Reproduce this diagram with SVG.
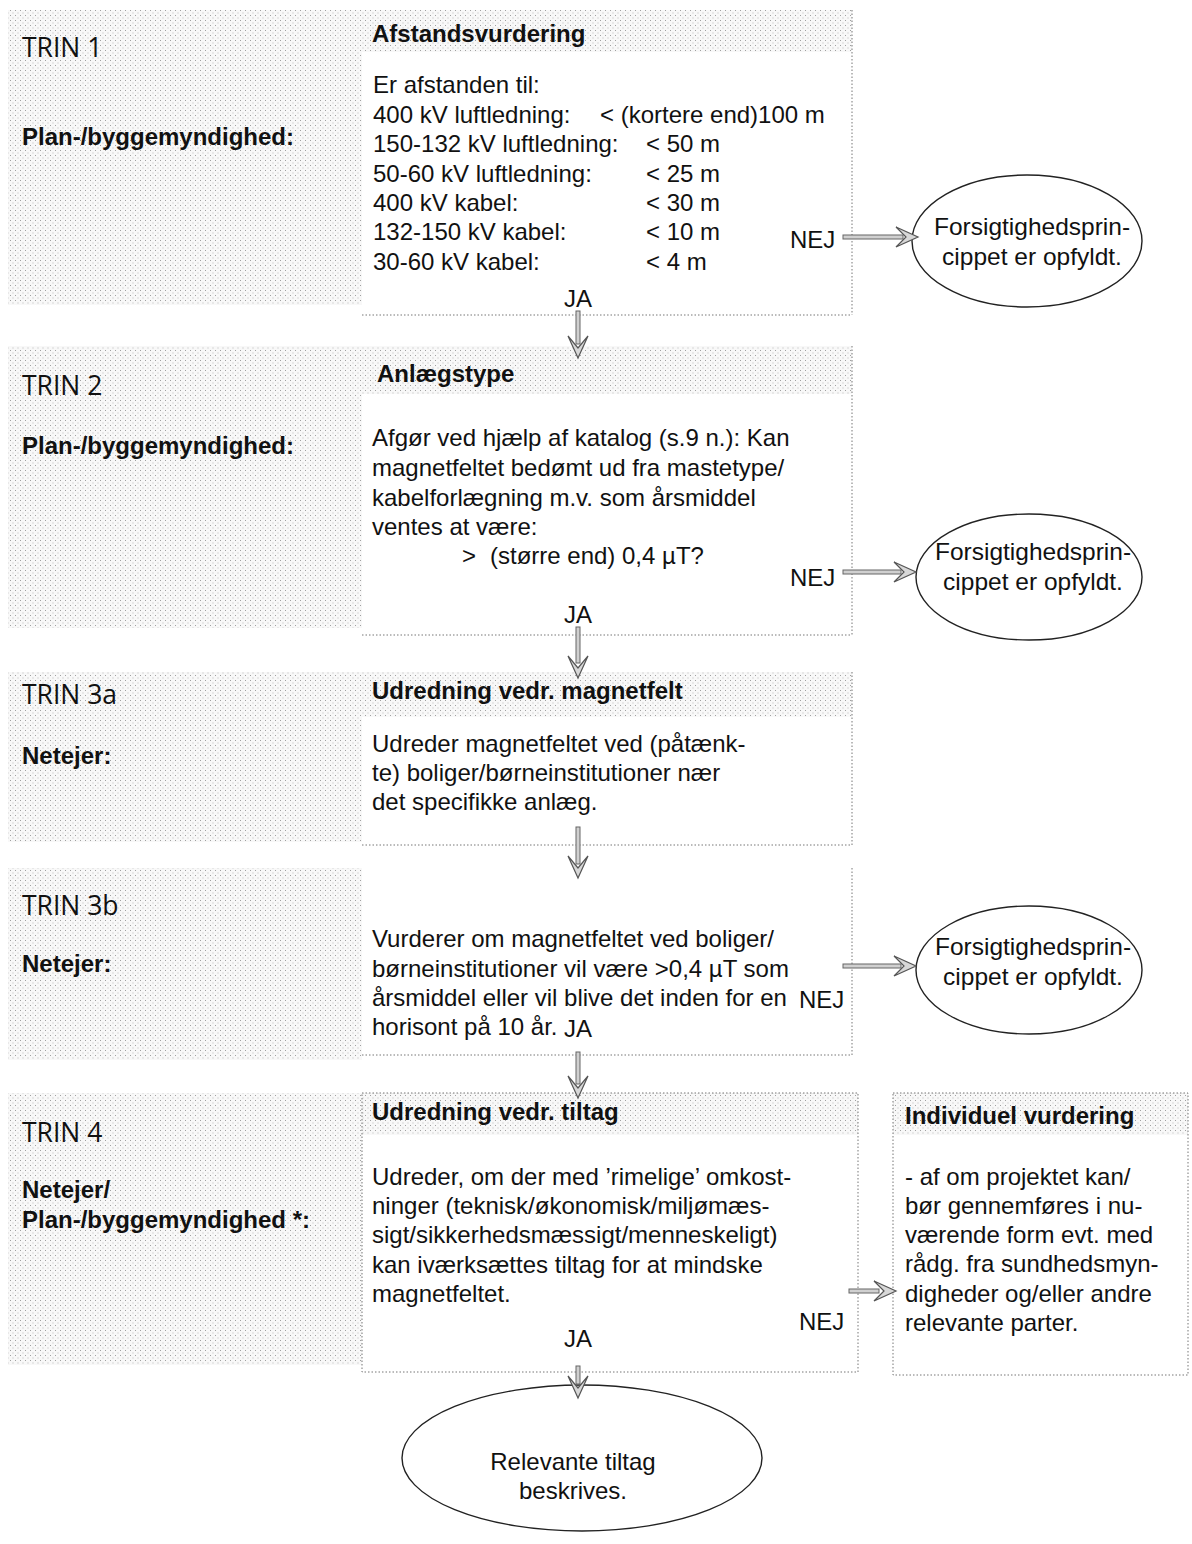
<svg xmlns="http://www.w3.org/2000/svg" width="1192" height="1544" viewBox="0 0 1192 1544">
<defs>
<pattern id="stip" width="5" height="5" patternUnits="userSpaceOnUse">
<rect width="5" height="5" fill="#f8f8f8"/>
<rect x="0" y="0" width="1" height="1" fill="#a0a0a0"/>
<rect x="2.5" y="2.5" width="1" height="1" fill="#b8b8b8"/>
</pattern>
<style>
.t{font-family:"Liberation Sans",Arial,sans-serif;font-size:24px;fill:#111}
.b{font-family:"Liberation Sans",Arial,sans-serif;font-size:24px;font-weight:bold;fill:#111}
.e{font-family:"Liberation Sans",Arial,sans-serif;font-size:24.5px;fill:#111;text-anchor:middle}
.trin{font-family:"Open Sans","Liberation Sans",sans-serif;font-size:26.5px;fill:#111}
.gray{fill:url(#stip)}
.dot{fill:none;stroke:#777;stroke-width:1;stroke-dasharray:1.5 2}
.ell{fill:#fff;stroke:#222;stroke-width:1.4}
.sh{fill:#d0d0d0;stroke:#666;stroke-width:1}
.hd{fill:#d8d8d8;stroke:#555;stroke-width:1.2;stroke-linejoin:miter}
.m{text-anchor:middle}
</style>
</defs>
<rect width="1192" height="1544" fill="#fff"/>

<!-- Row 1 -->
<g id="trin1">
<rect class="gray" x="8" y="10" width="354" height="295"/>
<text class="trin" x="22" y="57">TRIN 1</text>
<text class="b" x="22" y="145">Plan-/byggemyndighed:</text>
</g>
<g id="afstand">
<rect class="gray" x="362" y="10" width="490" height="42"/>
<path class="dot" d="M852 10 V315 M362 315 H852"/>
<text class="b" x="372" y="42">Afstandsvurdering</text>
<text class="t" x="373" y="93">Er afstanden til:</text>
<text class="t" x="373" y="123">400 kV luftledning:</text>
<text class="t" x="600" y="123">&lt; (kortere end)100 m</text>
<text class="t" x="373" y="152">150-132 kV luftledning:</text>
<text class="t" x="646" y="152">&lt; 50 m</text>
<text class="t" x="373" y="182">50-60 kV luftledning:</text>
<text class="t" x="646" y="182">&lt; 25 m</text>
<text class="t" x="373" y="211">400 kV kabel:</text>
<text class="t" x="646" y="211">&lt; 30 m</text>
<text class="t" x="373" y="240">132-150 kV kabel:</text>
<text class="t" x="646" y="240">&lt; 10 m</text>
<text class="t" x="373" y="270">30-60 kV kabel:</text>
<text class="t" x="646" y="270">&lt; 4 m</text>
</g>
<g id="forsig1">
<ellipse class="ell" cx="1027" cy="241" rx="115" ry="66"/>
<text class="e" x="1032" y="235">Forsigtighedsprin-</text>
<text class="e" x="1032" y="265">cippet er opfyldt.</text>
</g>

<!-- Row 2 -->
<g id="trin2">
<rect class="gray" x="8" y="346" width="354" height="282"/>
<text class="trin" x="22" y="395">TRIN 2</text>
<text class="b" x="22" y="454">Plan-/byggemyndighed:</text>
</g>
<g id="anlaeg">
<rect class="gray" x="362" y="346" width="490" height="48"/>
<path class="dot" d="M852 346 V635 M362 635 H852"/>
<text class="b" x="377" y="382">Anlægstype</text>
<text class="t" x="372" y="446">Afgør ved hjælp af katalog (s.9 n.): Kan</text>
<text class="t" x="372" y="476">magnetfeltet bedømt ud fra mastetype/</text>
<text class="t" x="372" y="506">kabelforlægning m.v. som årsmiddel</text>
<text class="t" x="372" y="535">ventes at være:</text>
<text class="t" x="462" y="564">&gt;</text>
<text class="t" x="490" y="564">(større end) 0,4 µT?</text>
</g>
<g id="forsig2">
<ellipse class="ell" cx="1029" cy="577" rx="113" ry="63"/>
<text class="e" x="1033" y="560">Forsigtighedsprin-</text>
<text class="e" x="1033" y="590">cippet er opfyldt.</text>
</g>

<!-- Row 3a -->
<g id="trin3a">
<rect class="gray" x="8" y="672" width="354" height="170"/>
<text class="trin" x="22" y="704">TRIN 3a</text>
<text class="b" x="22" y="764">Netejer:</text>
</g>
<g id="udredmag">
<rect class="gray" x="362" y="672" width="490" height="45"/>
<path class="dot" d="M852 672 V845 M362 845 H852"/>
<text class="b" x="372" y="699">Udredning vedr. magnetfelt</text>
<text class="t" x="372" y="752">Udreder magnetfeltet ved (påtænk-</text>
<text class="t" x="372" y="781">te) boliger/børneinstitutioner nær</text>
<text class="t" x="372" y="810">det specifikke anlæg.</text>
</g>

<!-- Row 3b -->
<g id="trin3b">
<rect class="gray" x="8" y="868" width="354" height="192"/>
<text class="trin" x="22" y="915">TRIN 3b</text>
<text class="b" x="22" y="972">Netejer:</text>
</g>
<g id="vurderer">
<path class="dot" d="M852 868 V1055 M362 1055 H852"/>
<text class="t" x="372" y="947">Vurderer om magnetfeltet ved boliger/</text>
<text class="t" x="372" y="977">børneinstitutioner vil være &gt;0,4 µT som</text>
<text class="t" x="372" y="1006">årsmiddel eller vil blive det inden for en</text>
<text class="t" x="372" y="1035">horisont på 10 år.</text>
</g>
<g id="forsig3">
<ellipse class="ell" cx="1029" cy="970" rx="113" ry="64"/>
<text class="e" x="1033" y="955">Forsigtighedsprin-</text>
<text class="e" x="1033" y="985">cippet er opfyldt.</text>
</g>

<!-- Row 4 -->
<g id="trin4">
<rect class="gray" x="8" y="1093" width="354" height="272"/>
<text class="trin" x="22" y="1142">TRIN 4</text>
<text class="b" x="22" y="1198">Netejer/</text>
<text class="b" x="22" y="1228">Plan-/byggemyndighed *:</text>
</g>
<g id="tiltag">
<rect class="gray" x="362" y="1093" width="496" height="42"/>
<rect class="dot" x="362" y="1093" width="496" height="279"/>
<text class="b" x="372" y="1120">Udredning vedr. tiltag</text>
<text class="t" x="372" y="1185">Udreder, om der med ’rimelige’ omkost-</text>
<text class="t" x="372" y="1214">ninger (teknisk/økonomisk/miljømæs-</text>
<text class="t" x="372" y="1243">sigt/sikkerhedsmæssigt/menneskeligt)</text>
<text class="t" x="372" y="1273">kan iværksættes tiltag for at mindske</text>
<text class="t" x="372" y="1302">magnetfeltet.</text>
</g>
<g id="individuel">
<rect class="gray" x="893" y="1093" width="295" height="42"/>
<rect class="dot" x="893" y="1093" width="295" height="282"/>
<text class="b" x="905" y="1124">Individuel vurdering</text>
<text class="t" x="905" y="1185">- af om projektet kan/</text>
<text class="t" x="905" y="1214">bør gennemføres i nu-</text>
<text class="t" x="905" y="1243">værende form evt. med</text>
<text class="t" x="905" y="1272">rådg. fra sundhedsmyn-</text>
<text class="t" x="905" y="1302">digheder og/eller andre</text>
<text class="t" x="905" y="1331">relevante parter.</text>
</g>
<g id="relevante">
<ellipse class="ell" cx="582" cy="1458" rx="180" ry="73"/>
<text class="t m" x="573" y="1470">Relevante tiltag</text>
<text class="t m" x="573" y="1499">beskrives.</text>
</g>

<!-- Connectors -->
<g id="connectors">
<text class="t" x="564" y="307">JA</text>
<text class="t" x="790" y="248">NEJ</text>
<text class="t" x="564" y="623">JA</text>
<text class="t" x="790" y="586">NEJ</text>
<text class="t" x="799" y="1008">NEJ</text>
<text class="t" x="564" y="1037">JA</text>
<text class="t" x="799" y="1330">NEJ</text>
<text class="t" x="564" y="1347">JA</text>

<rect class="sh" x="576" y="311" width="4" height="33"/>
<path class="hd" d="M568 336 L578 358 L588 336 L578 348 Z"/>
<rect class="sh" x="576" y="627" width="4" height="36"/>
<path class="hd" d="M568 656 L578 678 L588 656 L578 668 Z"/>
<rect class="sh" x="576" y="827" width="4" height="37"/>
<path class="hd" d="M568 856 L578 878 L588 856 L578 868 Z"/>
<rect class="sh" x="576" y="1052" width="4" height="32"/>
<path class="hd" d="M568 1076 L578 1098 L588 1076 L578 1088 Z"/>
<rect class="sh" x="576" y="1366" width="4" height="18"/>
<path class="hd" d="M568 1376 L578 1398 L588 1376 L578 1388 Z"/>

<rect class="sh" x="843" y="235" width="60" height="4"/>
<path class="hd" d="M896 227 L918 237 L896 247 L906 237 Z"/>
<rect class="sh" x="843" y="570" width="58" height="4"/>
<path class="hd" d="M894 562 L916 572 L894 582 L904 572 Z"/>
<rect class="sh" x="843" y="964" width="58" height="4"/>
<path class="hd" d="M894 956 L916 966 L894 976 L904 966 Z"/>
<rect class="sh" x="849" y="1289" width="30" height="4"/>
<path class="hd" d="M874 1281 L896 1291 L874 1301 L884 1291 Z"/>
</g>
</svg>
